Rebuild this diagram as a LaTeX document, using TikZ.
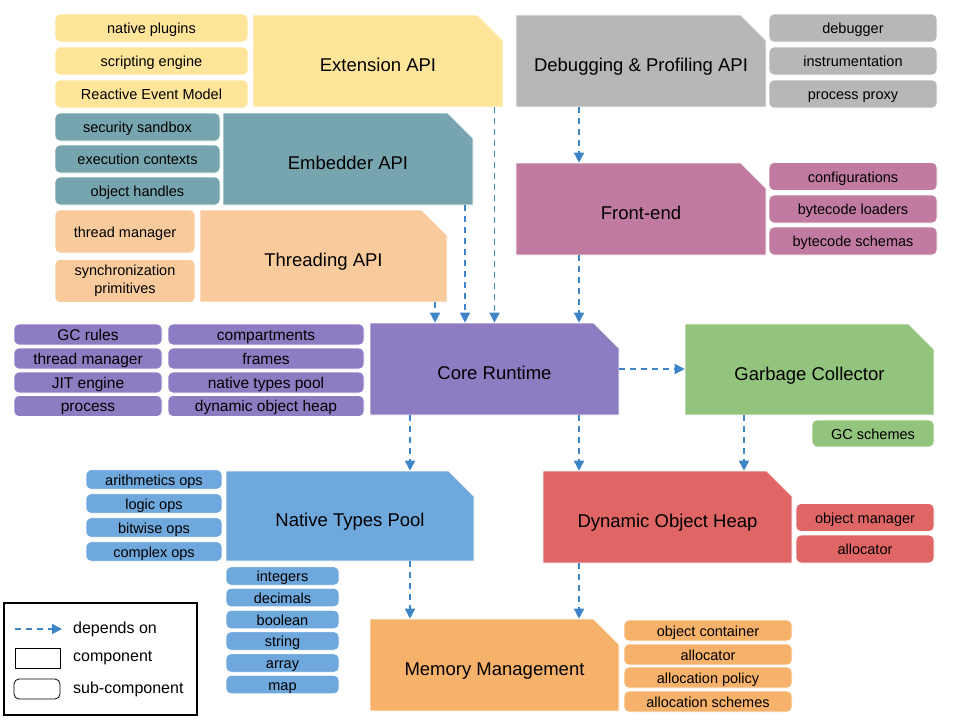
\documentclass[tikz,border=0pt]{standalone}
\usepackage{fontspec}
\setmainfont{Liberation Sans}
\usetikzlibrary{shapes.misc,arrows.meta}

\definecolor{extc}{HTML}{FFE599}
\definecolor{dbgc}{HTML}{B7B7B7}
\definecolor{embc}{HTML}{76A5AF}
\definecolor{thrc}{HTML}{F9CB9C}
\definecolor{frontc}{HTML}{C27BA0}
\definecolor{corec}{HTML}{8E7CC3}
\definecolor{gcc}{HTML}{93C47D}
\definecolor{ntpc}{HTML}{6FA8DC}
\definecolor{dohc}{HTML}{E06666}
\definecolor{memc}{HTML}{F6B26B}
\definecolor{depc}{HTML}{3D85C6}

\begin{document}
\begin{tikzpicture}[x=1pt,y=-1pt]
  \useasboundingbox (0,0) rectangle (960,720);
  \tikzstyle{comp}=[chamfered rectangle,chamfered rectangle corners=north east,
  chamfered rectangle xsep=15pt,chamfered rectangle ysep=15pt,draw=white,
  line width=0.6pt,inner sep=0pt,minimum width=250pt,minimum height=92pt,
  text height=21pt,text depth=0pt,font=\fontsize{18.5}{20}\selectfont]
  \tikzstyle{subbox}=[rectangle,rounded corners=5pt,draw=white,line width=0.6pt,
  inner sep=0pt,align=center,font=\fontsize{14.5}{18}\selectfont]
  \tikzstyle{sub}=[subbox,text height=14pt,text depth=3pt]
  \tikzstyle{dep}=[draw=depc,line width=1.6pt,dash pattern=on 6pt off 5pt,
  -{Triangle[length=10pt,width=10pt]}]
  \tikzstyle{legtext}=[anchor=west,inner sep=0pt,font=\fontsize{16}{18}\selectfont]

  % components
  \node[comp,fill=extc](ext) at (378,61){Extension API};
  \node[comp,fill=dbgc](dbg) at (641,61){Debugging \& Profiling API};
  \node[comp,fill=embc](emb) at (348,159){Embedder API};
  \node[comp,fill=thrc,minimum width=247pt](thr) at (323.5,256){Threading API};
  \node[comp,fill=frontc](front) at (641,209){Front-end};
  \node[comp,fill=corec,minimum width=249pt](core) at (494.5,369){Core Runtime};
  \node[comp,fill=gcc,minimum width=249pt,minimum height=91pt](gc) at (809.5,369.5){Garbage Collector};
  \node[comp,fill=ntpc,minimum width=248pt,minimum height=90pt](ntp) at (350,516){Native Types Pool};
  \node[comp,fill=dohc,minimum width=249pt](doh) at (667.5,517){Dynamic Object Heap};
  \node[comp,fill=memc,minimum width=249pt](mem) at (494.5,665){Memory Management};

  % sub-components
  \tikzstyle{extsub}=[sub,fill=extc,minimum width=193pt,minimum height=28pt]
  \node[extsub](plugins) at (151.5,28){native plugins};
  \node[extsub](scripting) at (151.5,61){scripting engine};
  \node[extsub](reactive) at (151.5,94){Reactive Event Model};

  \tikzstyle{dbgsub}=[sub,fill=dbgc,minimum width=168pt,minimum height=28pt]
  \node[dbgsub](debugger) at (853,28){debugger};
  \node[dbgsub](instr) at (853,61){instrumentation};
  \node[dbgsub](proxy) at (853,94){process proxy};

  \tikzstyle{embsub}=[sub,fill=embc,minimum width=165pt,minimum height=28pt]
  \node[embsub](sandbox) at (137.5,127){security sandbox};
  \node[embsub](contexts) at (137.5,159){execution contexts};
  \node[embsub](handles) at (137.5,191){object handles};

  \node[sub,fill=thrc,minimum width=140pt,minimum height=43pt](thrmgr) at (125,231.5){thread manager};
  \node[subbox,fill=thrc,minimum width=140pt,minimum height=43pt](sync) at (125,281){synchronization\\primitives};

  \tikzstyle{frontsub}=[sub,fill=frontc,minimum width=168pt,minimum height=28pt]
  \node[frontsub](configs) at (853,176.5){configurations};
  \node[frontsub](loaders) at (853,209){bytecode loaders};
  \node[frontsub](schemas) at (853,241){bytecode schemas};

  \tikzstyle{coresub}=[sub,fill=corec,minimum height=21pt,text height=14.5pt,
  text depth=3pt,font=\fontsize{15.5}{18}\selectfont]
  \node[coresub,minimum width=148pt](gcrules) at (88,334.5){GC rules};
  \node[coresub,minimum width=148pt](coremgr) at (88,358.5){thread manager};
  \node[coresub,minimum width=148pt](jit) at (88,382.5){JIT engine};
  \node[coresub,minimum width=148pt](process) at (88,406){process};
  \node[coresub,minimum width=196pt](compart) at (266,334.5){compartments};
  \node[coresub,minimum width=196pt](frames) at (266,358.5){frames};
  \node[coresub,minimum width=196pt](ntpool) at (266,382.5){native types pool};
  \node[coresub,minimum width=196pt](dynheap) at (266,406){dynamic object heap};

  \node[sub,fill=gcc,minimum width=122pt,minimum height=27pt](gcschemes) at (873,433.5){GC schemes};

  \tikzstyle{opsub}=[sub,fill=ntpc,minimum width=136pt,minimum height=19.5pt]
  \node[opsub](arith) at (154,479.5){arithmetics ops};
  \node[opsub](logic) at (154,503.5){logic ops};
  \node[opsub](bitwise) at (154,527.5){bitwise ops};
  \node[opsub](complex) at (154,551.5){complex ops};

  \tikzstyle{typesub}=[sub,fill=ntpc,minimum width=113pt,minimum height=18.5pt]
  \node[typesub](integers) at (282.5,576){integers};
  \node[typesub](decimals) at (282.5,597.5){decimals};
  \node[typesub](boolean) at (282.5,619.5){boolean};
  \node[typesub](string) at (282.5,641){string};
  \node[typesub](array) at (282.5,663){array};
  \node[typesub](map) at (282.5,684.5){map};

  \tikzstyle{dohsub}=[sub,fill=dohc,minimum width=138pt,minimum height=28pt]
  \node[dohsub](objmgr) at (865,517.5){object manager};
  \node[dohsub](dohalloc) at (865,549){allocator};

  \tikzstyle{memsub}=[sub,fill=memc,minimum width=168pt,minimum height=21pt]
  \node[memsub](container) at (708,630.5){object container};
  \node[memsub](memalloc) at (708,654.5){allocator};
  \node[memsub](policy) at (708,677.5){allocation policy};
  \node[memsub](allocschemes) at (708,701.5){allocation schemes};

  % dependencies
  \coordinate (xa) at (410,0);
  \coordinate (xb) at (579,0);
  \coordinate (xc) at (744,0);
  \coordinate (xd) at (465,0);
  \coordinate (xe) at (435,0);
  \path[dep] (core.north |- ext.south) -- (core.north);
  \path[dep] (xd |- emb.south) -- (xd |- core.north);
  \path[dep] (xe |- thr.south) -- (xe |- core.north);
  \path[dep] (xb |- dbg.south) -- (xb |- front.north);
  \path[dep] (xb |- front.south) -- (xb |- core.north);
  \path[dep] (core.east) -- (gc.west |- core.east);
  \path[dep] (xa |- core.south) -- (xa |- ntp.north);
  \path[dep] (xb |- core.south) -- (xb |- doh.north);
  \path[dep] (xc |- gc.south) -- (xc |- doh.north);
  \path[dep] (xa |- ntp.south) -- (xa |- mem.north);
  \path[dep] (xb |- doh.south) -- (xb |- mem.north);

  % legend
  \node[draw=black,line width=1.3pt,minimum width=193pt,minimum height=112pt,inner sep=0pt](legend) at (100.5,659){};
  \coordinate (lstart) at (15,629);
  \coordinate (lend) at (62,629);
  \path[dep] (lstart) -- (lend);
  \node[legtext](ldep) at (73,629){depends on};
  \node[chamfered rectangle,chamfered rectangle corners=north east,
  chamfered rectangle xsep=4pt,chamfered rectangle ysep=4pt,draw=black,
  line width=0.8pt,inner sep=0pt,minimum width=45pt,minimum height=20pt](lcomp) at (37.5,658){};
  \node[legtext](lcomptext) at (73,658){component};
  \node[rectangle,rounded corners=5pt,draw=black,line width=0.8pt,inner sep=0pt,
  minimum width=46pt,minimum height=20pt](lsub) at (37,689){};
  \node[legtext](lsubtext) at (73,689){sub-component};
\end{tikzpicture}
\end{document}
